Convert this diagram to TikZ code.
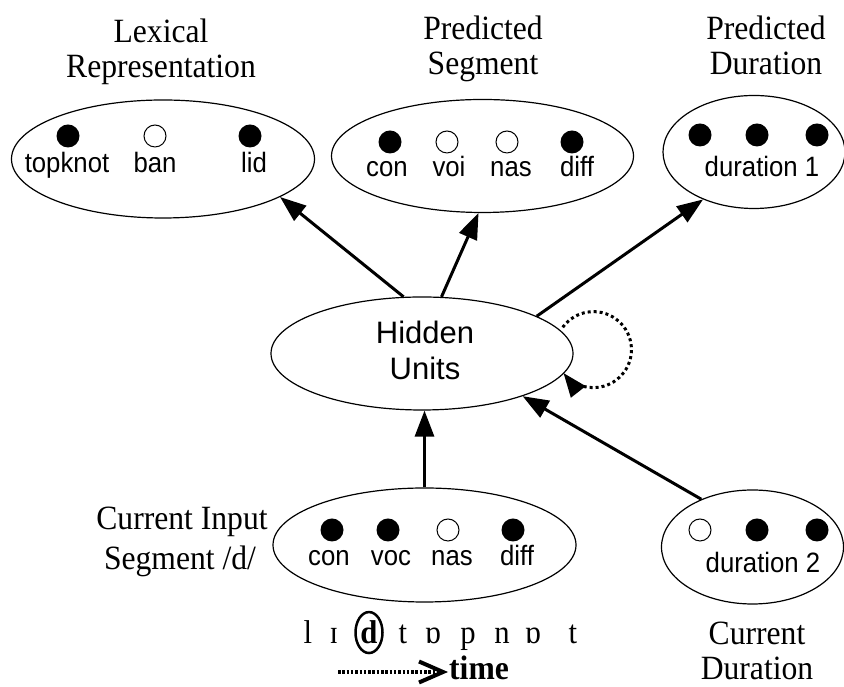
\documentclass[tikz,border=0pt]{standalone}
\usepackage{fontspec}
\setmainfont{Liberation Serif}[FakeStretch=0.93]
\newfontfamily\labfont{Liberation Sans}[FakeStretch=0.92]
\newfontfamily\hidfont{Liberation Sans}
\usetikzlibrary{shapes.geometric,arrows.meta}
\begin{document}
\begin{tikzpicture}[x=1pt,y=1pt,
  oval/.style={ellipse,draw,line width=1.2pt,inner sep=0pt},
  fdot/.style={circle,fill=black,minimum size=23pt,inner sep=0pt},
  odot/.style={circle,draw,line width=1pt,minimum size=22pt,inner sep=0pt},
  lab/.style={anchor=base,font=\labfont\fontsize{28}{30}\selectfont,inner sep=0pt},
  ttl/.style={anchor=base,font=\fontsize{34}{36}\selectfont,inner sep=0pt},
  hidtxt/.style={anchor=base,font=\hidfont\fontsize{31}{33}\selectfont,inner sep=0pt},
  ph/.style={anchor=base,font=\fontsize{33}{35}\selectfont,inner sep=0pt},
  arr/.style={line width=3pt,-{Triangle[length=26pt,width=19pt]}},
  dotline/.style={line width=3pt,dash pattern=on 3pt off 3pt}
]
\useasboundingbox (0,0) rectangle (844,687);

% ellipses
\node[oval,minimum width=303pt,minimum height=118pt] (lex) at (163,528) {};
\node[oval,minimum width=302pt,minimum height=113pt] (seg) at (482.5,531) {};
\node[oval,minimum width=182pt,minimum height=113pt] (dur1) at (754,535) {};
\node[oval,minimum width=302pt,minimum height=113pt] (hid) at (422,333.5) {};
\node[oval,minimum width=303pt,minimum height=114pt] (inp) at (424.5,142) {};
\node[oval,minimum width=182pt,minimum height=114pt] (dur2) at (752.5,140) {};

% titles
\node[ttl] (t1a) at (161,644) {Lexical};
\node[ttl] (t1b) at (161,609) {Representation};
\node[ttl] (t2a) at (483,647) {Predicted};
\node[ttl] (t2b) at (483,612) {Segment};
\node[ttl] (t3a) at (766,647) {Predicted};
\node[ttl] (t3b) at (766,612) {Duration};
\node[ttl] (c1a) at (182,157) {Current Input};
\node[ttl] (c1b) at (180,117) {Segment /d/};
\node[ttl] (c2a) at (757,42) {Current};
\node[ttl] (c2b) at (757,7) {Duration};

% lexical units
\node[fdot] (lx1) at (68,551) {};
\node[odot] (lx2) at (155,551) {};
\node[fdot] (lx3) at (250,551) {};
\node[lab] (ll1) at (67,514) {topknot};
\node[lab] (ll2) at (155,514) {ban};
\node[lab] (ll3) at (254,514) {lid};

% predicted segment units
\node[fdot] (sg1) at (390,545) {};
\node[odot] (sg2) at (447,545) {};
\node[odot] (sg3) at (507,545) {};
\node[fdot] (sg4) at (572,545) {};
\node[lab] (sl1) at (387,510) {con};
\node[lab] (sl2) at (449,510) {voi};
\node[lab] (sl3) at (511,510) {nas};
\node[lab] (sl4) at (577,510) {diff};

% predicted duration units
\node[fdot] (pd1) at (700,552) {};
\node[fdot] (pd2) at (757,552) {};
\node[fdot] (pd3) at (817,552) {};
\node[lab] (pdl) at (762,510) {duration 1};

% hidden
\node[hidtxt] (h1) at (425,343) {Hidden};
\node[hidtxt] (h2) at (425,307) {Units};

% current input units
\node[fdot] (in1) at (332,157) {};
\node[fdot] (in2) at (388,157) {};
\node[odot] (in3) at (448,157) {};
\node[fdot] (in4) at (513,157) {};
\node[lab] (il1) at (329,121) {con};
\node[lab] (il2) at (391,121) {voc};
\node[lab] (il3) at (452,121) {nas};
\node[lab] (il4) at (517,121) {diff};

% current duration units
\node[odot] (cd1) at (700,157) {};
\node[fdot] (cd2) at (757,157) {};
\node[fdot] (cd3) at (817,157) {};
\node[lab] (cdl) at (763,114) {duration 2};

% connectors
\draw[arr] (hid.108) -- (lex.-18);
\draw[arr] (hid.71) -- (seg.-94);
\draw[arr] (hid.18) -- (dur1.-137);
\draw[arr] (inp.north) -- (inp.north |- hid.south);
\draw[arr] (dur2.137) -- (hid.-23);
\draw[dotline,-{Triangle[length=24pt,width=18pt]}] ([xshift=6pt]hid.11) arc[start angle=144,end angle=-142,radius=38];

% phonetic string
\node[ph] (p1) at (308,43) {l};
\node[ph] (p2) at (334,43) {ɪ};
\node[ph,ellipse,draw,line width=2.5pt,minimum width=27pt,minimum height=41pt,text depth=0pt] (p3) at (369,43) {\textbf{d}};
\node[ph] (p4) at (403,43) {t};
\node[ph] (p5) at (433,43) {ɒ};
\node[ph] (p6) at (468,43) {p};
\node[ph] (p7) at (502,43) {n};
\node[ph] (p8) at (533,43) {ɒ};
\node[ph] (p9) at (573,43) {t};

% time arrow
\node[anchor=base west,inner sep=0pt,font=\bfseries\fontsize{34}{36}\selectfont] (time) at (449,7) {time};
\coordinate (tst) at (338,15);
\draw[line width=3.5pt,dash pattern=on 2.5pt off 1.8pt,-{Straight Barb[length=24pt,width=21pt,line width=4pt]}] (tst) -- ([xshift=-1pt]tst -| time.west);
\end{tikzpicture}
\end{document}
